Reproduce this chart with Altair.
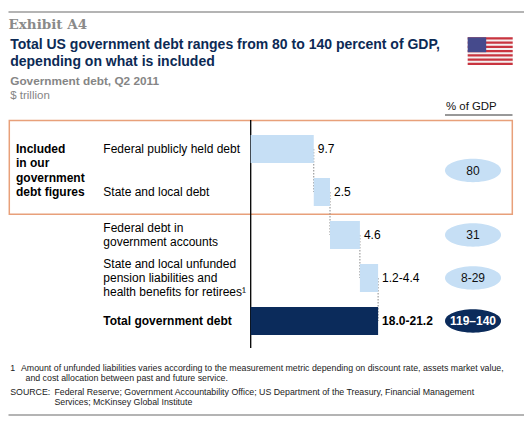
import altair as alt
import pandas as pd

# ---------------- data ----------------
row_labels = [
    "Federal publicly held debt",
    "State and local debt",
    "Federal debt in\ngovernment accounts",
    "State and local unfunded\npension liabilities and\nhealth benefits for retirees\u00b9",
    "Total government debt",
]
row_pos = [0, 1, 2, 3, 4]
# component values, $ trillion (ranges drawn at their midpoint)
comp_low = [9.7, 2.5, 4.6, 1.2]
comp_high = [9.7, 2.5, 4.6, 4.4]
value_labels = ["9.7", "2.5", "4.6", "1.2-4.4", "18.0-21.2"]
gdp_labels = ["80", "31", "8-29", "119\u2013140"]
gdp_pos = [0.5, 2, 3, 4]
gdp_kind = ["part", "part", "part", "total"]

# ---------------- build tables ----------------
comp_mid = [(a + b) / 2 for a, b in zip(comp_low, comp_high)]
starts, ends, acc = [], [], 0.0
for v in comp_mid:
    starts.append(acc)
    acc += v
    ends.append(acc)
starts.append(0.0)
ends.append(acc)
kinds = ["part"] * 4 + ["total"]

bars = pd.DataFrame({"pos": row_pos, "start": starts, "end": ends,
                     "label": value_labels, "kind": kinds, "row": row_labels,
                     "nlines": [r.count("\n") + 1 for r in row_labels]})
conn = pd.DataFrame({"x": ends[:4], "y0": row_pos[:4], "y1": row_pos[1:]})
gdp = pd.DataFrame({"pos": gdp_pos, "label": gdp_labels, "kind": gdp_kind})
one = pd.DataFrame({"k": [0]})

FONT = "Liberation Sans"
LIGHT = "#c6dff5"
NAVY = "#0b2b5b"
LH = 14.2

xs = alt.Scale(domain=[0, 20], range=[242.7, 372.7], nice=False, zero=False)
ys = alt.Scale(domain=[0, 4], range=[136, 318], nice=False, zero=False)
kind_color = alt.Scale(domain=["part", "total"], range=[LIGHT, NAVY])


def text_at(txt, x, y, size=12, weight="normal", color="#000000", font=FONT,
            align="left", baseline="alphabetic", lh=None):
    kw = dict(text=txt, align=align, baseline=baseline, fontSize=size,
              fontWeight=weight, color=color, font=font)
    if lh:
        kw["lineHeight"] = lh
        kw["lineBreak"] = "\n"
    return alt.Chart(one).mark_text(**kw).encode(x=alt.value(x), y=alt.value(y))


def hrule(x, x2, y, color, sw):
    return alt.Chart(one).mark_rule(color=color, strokeWidth=sw).encode(
        x=alt.value(x), x2=alt.value(x2), y=alt.value(y))


def rect(x, x2, y, y2, fill):
    return alt.Chart(one).mark_rect(fill=fill, strokeWidth=0).encode(
        x=alt.value(x), x2=alt.value(x2), y=alt.value(y), y2=alt.value(y2))


layers = []

# frame lines
layers.append(hrule(0.5, 516.5, 4, "#9b9b9b", 1.5))
layers.append(hrule(0.5, 516.5, 407, "#9b9b9b", 1.5))

# titles
layers.append(text_at("Exhibit A4", 0.5, 20.8, size=13.5, weight="bold",
                      color="#8a8a8a", font="DejaVu Serif"))
layers.append(text_at("Total US government debt ranges from 80 to 140 percent of GDP,\ndepending on what is included",
                      2.2, 41.2, size=14, weight="bold", color="#0c2a55", lh=17))
layers.append(text_at("Government debt, Q2 2011", 2.2, 77.4, size=11.8, weight="bold", color="#858585"))
layers.append(text_at("$ trillion", 2.2, 91, size=11.5, color="#858585"))
layers.append(text_at("% of GDP", 438, 102, size=11.4, color="#111111"))
layers.append(hrule(437, 504.5, 107, "#333333", 1))

# flag
fx0, fx1, fy0, fy1 = 459.7, 504.7, 29.3, 57.0
sh = (fy1 - fy0) / 13
layers.append(rect(fx0, fx1, fy0, fy1, "#f4f0f0"))
for k in range(0, 13, 2):
    layers.append(rect(fx0, fx1, fy0 + k * sh, fy0 + (k + 1) * sh, "#c9343f"))
layers.append(rect(fx0, fx0 + 18.5, fy0, fy0 + 7 * sh, "#454a8c"))

# orange box
layers.append(alt.Chart(one).mark_rect(fillOpacity=0, stroke="#e8a07a", strokeWidth=1.5).encode(
    x=alt.value(1.3), x2=alt.value(504.3), y=alt.value(112.5), y2=alt.value(206.3)))

# axis line at zero
layers.append(alt.Chart(pd.DataFrame({"v": [0]})).mark_rule(color="#000000", strokeWidth=1.3).encode(
    x=alt.X("v:Q", scale=xs, axis=None), y=alt.value(112), y2=alt.value(340)))

# connectors
layers.append(alt.Chart(conn).mark_rule(color="#8a8a8a", strokeWidth=1, strokeDash=[1.5, 1.5]).encode(
    x=alt.X("x:Q", scale=xs, axis=None),
    y=alt.Y("y0:Q", scale=ys, axis=None),
    y2="y1:Q"))

# bars
layers.append(alt.Chart(bars).mark_bar(size=28).encode(
    x=alt.X("start:Q", scale=xs, axis=None),
    x2="end:Q",
    y=alt.Y("pos:Q", scale=ys, axis=None),
    color=alt.Color("kind:N", scale=kind_color, legend=None)))

# value labels
base_bars = alt.Chart(bars)
layers.append(base_bars.transform_filter("datum.kind == 'part'").mark_text(
    align="left", baseline="middle", dx=4, fontSize=12, font=FONT, color="#000000").encode(
    x=alt.X("end:Q", scale=xs, axis=None), y=alt.Y("pos:Q", scale=ys, axis=None), text="label:N"))
layers.append(base_bars.transform_filter("datum.kind == 'total'").mark_text(
    align="left", baseline="middle", dx=4, fontSize=12, font=FONT, fontWeight="bold", color="#000000").encode(
    x=alt.X("end:Q", scale=xs, axis=None), y=alt.Y("pos:Q", scale=ys, axis=None), text="label:N"))

# row labels (multi-line blocks centred on their row)
for n in sorted(set(bars["nlines"])):
    layers.append(base_bars.transform_filter(
        f"datum.kind == 'part' && datum.nlines == {n}").mark_text(
        align="left", baseline="middle", fontSize=12, font=FONT, color="#000000",
        lineBreak="\n", lineHeight=LH, dy=-(n - 1) * LH / 2).encode(
        x=alt.value(95.3), y=alt.Y("pos:Q", scale=ys, axis=None), text="row:N"))
layers.append(base_bars.transform_filter("datum.kind == 'total'").mark_text(
    align="left", baseline="middle", fontSize=12, font=FONT, fontWeight="bold", color="#000000").encode(
    x=alt.value(95.3), y=alt.Y("pos:Q", scale=ys, axis=None), text="row:N"))

# group label
layers.append(alt.Chart(pd.DataFrame({"pos": [0.5], "t": ["Included\nin our\ngovernment\ndebt figures"]})).mark_text(
    align="left", baseline="middle", fontSize=12, font=FONT, fontWeight="bold", color="#000000",
    lineBreak="\n", lineHeight=14.5, dy=-1.5 * 14.5).encode(
    x=alt.value(8), y=alt.Y("pos:Q", scale=ys, axis=None), text="t:N"))

# % of GDP ellipses
ellipse = "M -1 0 A 1 0.416 0 1 1 1 0 A 1 0.416 0 1 1 -1 0 Z"
layers.append(alt.Chart(gdp).mark_point(shape=ellipse, filled=True, size=3136, strokeWidth=0, opacity=1).encode(
    x=alt.value(465), y=alt.Y("pos:Q", scale=ys, axis=None),
    color=alt.Color("kind:N", scale=kind_color, legend=None)))
layers.append(alt.Chart(gdp).transform_filter("datum.kind == 'part'").mark_text(
    align="center", baseline="middle", fontSize=12, font=FONT, color="#111111").encode(
    x=alt.value(465), y=alt.Y("pos:Q", scale=ys, axis=None), text="label:N"))
layers.append(alt.Chart(gdp).transform_filter("datum.kind == 'total'").mark_text(
    align="center", baseline="middle", fontSize=12, font=FONT, fontWeight="bold", color="#ffffff").encode(
    x=alt.value(465), y=alt.Y("pos:Q", scale=ys, axis=None), text="label:N"))

# footnotes
FN = 8.8
FC = "#1a1a1a"
layers.append(text_at("1", 2.2, 363.2, size=FN, color=FC))
layers.append(text_at("Amount of unfunded liabilities varies according to the measurement metric depending on discount rate, assets market value,",
                      13, 363.2, size=FN, color=FC))
layers.append(text_at("and cost allocation between past and future service.", 17.5, 373.4, size=FN, color=FC))
layers.append(text_at("SOURCE:", 2.2, 387.3, size=FN, color=FC))
layers.append(text_at("Federal Reserve; Government Accountability Office; US Department of the Treasury, Financial Management",
                      46.4, 387.3, size=FN, color=FC))
layers.append(text_at("Services; McKinsey Global Institute", 46.4, 397, size=FN, color=FC))

chart = alt.layer(*layers).properties(
    width=516, height=408, padding=0,
    autosize=alt.AutoSizeParams(type="none"),
    background="#ffffff",
).configure_view(stroke=None)

chart.save("out.html", embed_options={"renderer": "svg", "actions": False})
